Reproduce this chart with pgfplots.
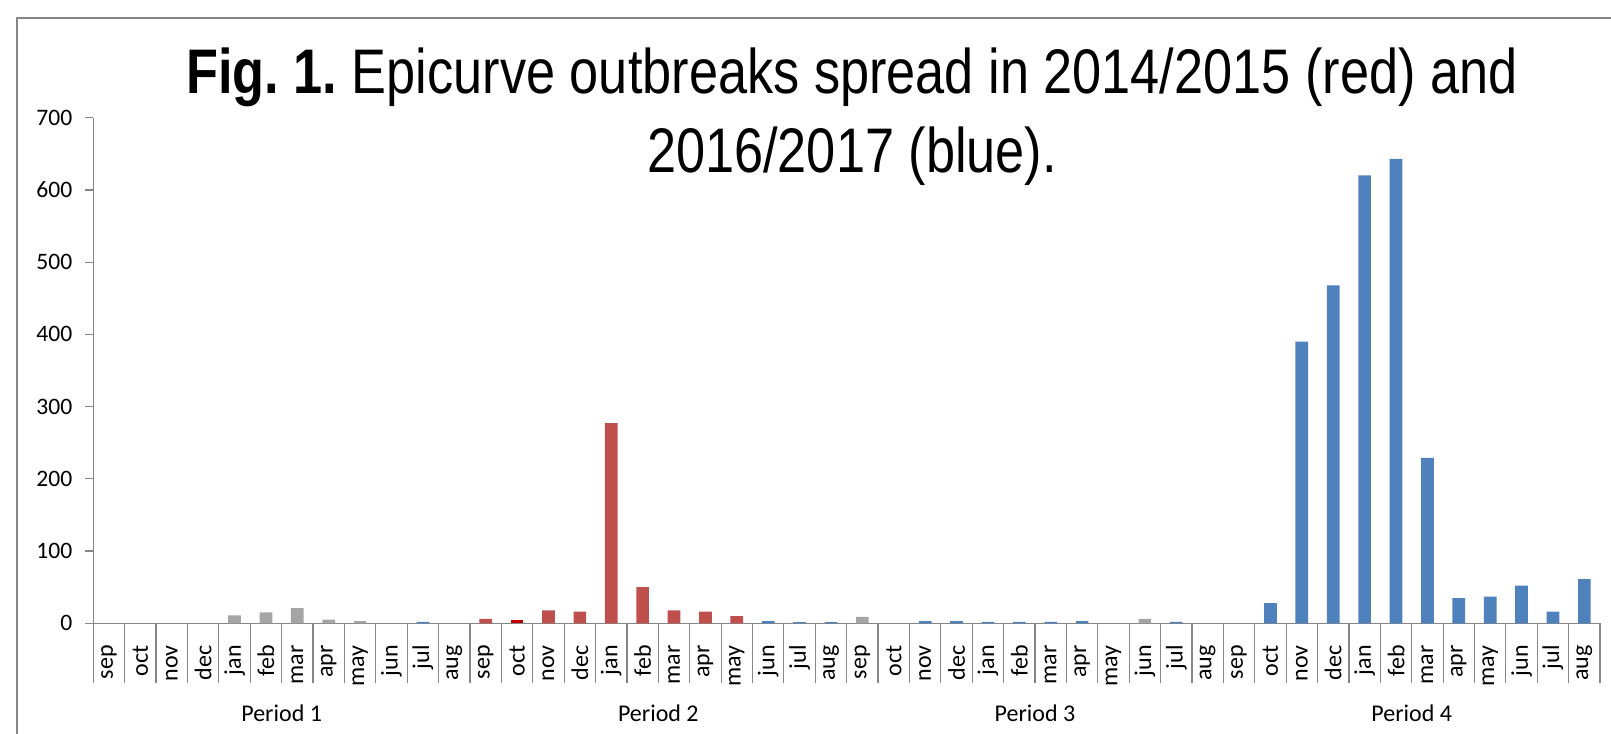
\documentclass[border=0pt]{standalone}
\usepackage{graphicx}
\usepackage{pgfplots}
\pgfplotsset{compat=1.18}
\usepackage{fontspec}
\setmainfont{Carlito}
\newfontfamily\arial{Liberation Sans}
\frenchspacing
\definecolor{axgray}{HTML}{868686}
\definecolor{bgray}{HTML}{A5A5A5}
\definecolor{bred}{HTML}{C0504D}
\definecolor{bdred}{HTML}{C00000}
\definecolor{bblue}{HTML}{4F81BD}
\begin{document}
\begin{tikzpicture}[x=0.5bp,y=0.5bp]
\path[use as bounding box] (0,0) rectangle (1611,734);
\clip (0,0) rectangle (1611,734);
\fill[white] (0,0) rectangle (1611,734);
\draw[axgray, line width=1bp] (17,716) rectangle (1700,-100);
\node[anchor=base, font=\arial\fontsize{31.5bp}{36bp}\selectfont] at (852,640) {\scalebox{0.83}[1]{\textbf{Fig. 1.} Epicurve outbreaks spread in 2014/2015 (red) and}};
\node[anchor=base, font=\arial\fontsize{31.5bp}{36bp}\selectfont] at (852,561.4) {\scalebox{0.83}[1]{2016/2017 (blue).}};
\begin{axis}[
  at={(46.65bp,55.35bp)}, anchor=south west,
  scale only axis, width=753.35bp, height=252.8bp,
  xmin=-0.5, xmax=47.5, ymin=0, ymax=700,
  axis x line=bottom, axis y line=left,
  axis line style={-, axgray, line width=0.6bp},
  ytick={0,100,...,700},
  ytick style={axgray, line width=0.6bp},
  tick align=outside,
  major tick length=4bp,
  yticklabel style={font=\fontsize{11.8bp}{13bp}\selectfont, xshift=-3bp},
  /pgf/number format/assume math mode=true,
  xtick={0,...,47},
  xticklabels={sep,oct,nov,dec,jan,feb,mar,apr,may,jun,jul,aug,sep,oct,nov,dec,jan,feb,mar,apr,may,jun,jul,aug,sep,oct,nov,dec,jan,feb,mar,apr,may,jun,jul,aug,sep,oct,nov,dec,jan,feb,mar,apr,may,jun,jul,aug},
  x tick style={draw=none},
  xticklabel style={rotate=90, anchor=east, font=\fontsize{12bp}{13bp}\selectfont, xshift=-3.5bp},
  minor xtick={-0.5,0.5,...,47.5},
  minor tick length=29.85bp,
  minor x tick style={draw=axgray, line width=0.6bp},
  extra x ticks={-0.5,11.5,23.5,35.5,47.5},
  extra x tick labels={},
  extra x tick style={major tick length=60bp, tick style={draw=axgray, line width=0.6bp}},
  clip=false,
]
\addplot[ybar, bar width=6.35bp, bar shift=0pt, fill=bgray, draw=none] coordinates {(4,11) (5,15) (6,21) (7,5) (8,3) (24,9) (33,6)};
\addplot[ybar, bar width=6.35bp, bar shift=0pt, fill=bred, draw=none] coordinates {(12,6) (14,18) (15,16) (16,277) (17,50) (18,18) (19,16) (20,10)};
\addplot[ybar, bar width=6.35bp, bar shift=0pt, fill=bdred, draw=none] coordinates {(13,5)};
\addplot[ybar, bar width=6.35bp, bar shift=0pt, fill=bblue, draw=none] coordinates {(10,2) (21,3) (22,1.5) (23,1.5) (26,3) (27,3) (28,2) (29,2) (30,2) (31,3) (34,2) (37,28) (38,390) (39,468) (40,620) (41,643) (42,229) (43,35) (44,37) (45,52) (46,16) (47,61)};
\node[font=\fontsize{12bp}{13bp}\selectfont, anchor=base] at ([yshift=-49bp]axis cs:5.5,0) {Period 1};
\node[font=\fontsize{12bp}{13bp}\selectfont, anchor=base] at ([yshift=-49bp]axis cs:17.5,0) {Period 2};
\node[font=\fontsize{12bp}{13bp}\selectfont, anchor=base] at ([yshift=-49bp]axis cs:29.5,0) {Period 3};
\node[font=\fontsize{12bp}{13bp}\selectfont, anchor=base] at ([yshift=-49bp]axis cs:41.5,0) {Period 4};
\end{axis}
\end{tikzpicture}
\end{document}
